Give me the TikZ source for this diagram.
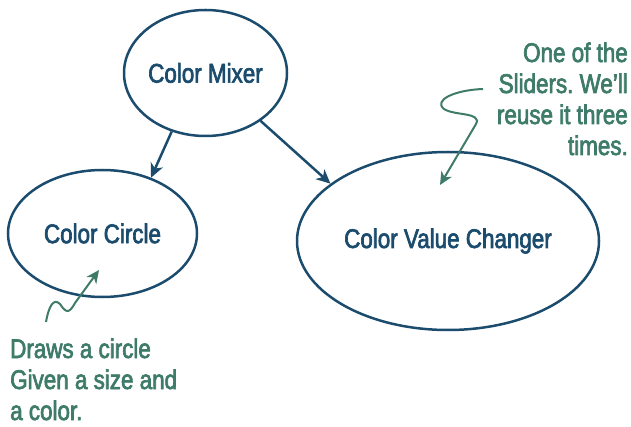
\documentclass[tikz,border=0pt]{standalone}
\usepackage{fontspec}
\setmainfont{Liberation Sans}[FakeStretch=0.83,FakeBold=2.5]
\usetikzlibrary{shapes.geometric,arrows.meta}
\definecolor{navy}{HTML}{1B4C6E}
\definecolor{note}{HTML}{3E7B69}
\frenchspacing
\tikzset{
  ellnode/.style={ellipse, draw=navy, line width=2.5pt, text=navy, inner sep=0pt,
    font=\fontsize{27}{31}\selectfont},
  link/.style={draw=navy, line width=2.5pt, -{Stealth[length=14pt,width=13pt,inset=4pt]}},
  notetext/.style={text=note, inner sep=0pt, font=\fontsize{27}{31}\selectfont},
  noteline/.style={draw=note, line width=2pt, -{Stealth[length=13pt,width=12pt,inset=4pt]}},
}
\begin{document}
\begin{tikzpicture}[x=1pt,y=-1pt]
\useasboundingbox (0,0) rectangle (631,427);
\node[ellnode, minimum width=163pt, minimum height=126pt] (mix) at (205.5,73) {Color Mixer};
\node[ellnode, minimum width=189pt, minimum height=127pt] (circ) at (102.5,233.5) {Color Circle};
\node[ellnode, minimum width=302pt, minimum height=178pt] (chg) at (448,241) {Color Value Changer};
\draw[link] (mix.-120) -- (circ.49);
\draw[link] (mix.-41) -- (chg.154);
\node[notetext, align=right, anchor=base east] (n1) at (628,155) {One of the\\Sliders. We’ll\\reuse it three\\times.};
\node[notetext, align=left, anchor=base west] (n2) at (10,420) {Draws a circle\\Given a size and\\a color.};
\coordinate (s1) at (483,89);
\coordinate (t1) at (440,185);
\coordinate (s2) at (46,322);
\coordinate (t2) at (99,270);
\draw[noteline] (s1) .. controls (455,90) and (433,100) .. (444,109) .. controls (455,116) and (482,112) .. (476,124) -- (t1);
\draw[noteline] (s2) .. controls (49,305) and (54,298) .. (60,304) .. controls (66,313) and (69,314) .. (75,303) -- (t2);
\end{tikzpicture}
\end{document}
